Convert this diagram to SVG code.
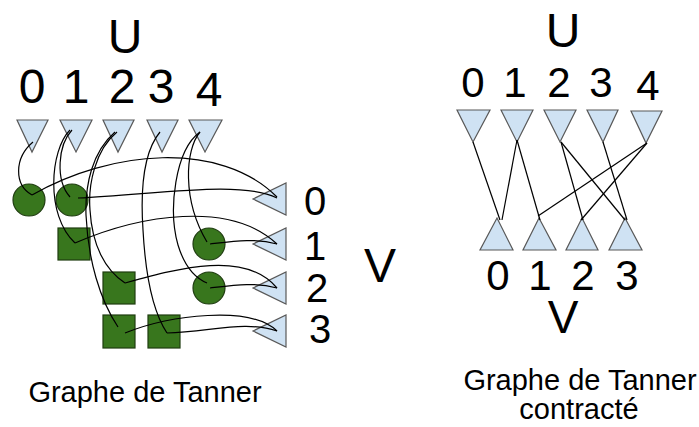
<svg xmlns="http://www.w3.org/2000/svg" width="699" height="427" viewBox="0 0 699 427">
<style>
.tri{fill:#cfe2f3;stroke:#595959;stroke-width:1.2}
.chk{fill:#38761d;stroke:#1f3d10;stroke-width:1.2}
.e{fill:none;stroke:#000;stroke-width:1.2}
.t{font-family:"Liberation Sans",Arial,sans-serif;fill:#000;text-anchor:middle}
</style>
<rect width="699" height="427" fill="#fff"/>
<!-- Left panel labels -->
<g id="left-labels" class="t">
<text x="125" y="53" font-size="48">U</text>
<text x="32" y="103" font-size="48">0</text>
<text x="76" y="103" font-size="48">1</text>
<text x="122" y="103" font-size="48">2</text>
<text x="161" y="103" font-size="48">3</text>
<text x="209" y="106" font-size="48">4</text>
<text x="315" y="215" font-size="40">0</text>
<text x="315" y="260" font-size="40">1</text>
<text x="317" y="302" font-size="40">2</text>
<text x="320" y="343" font-size="40">3</text>
<text x="380" y="282" font-size="48">V</text>
<text x="145" y="402" font-size="29">Graphe de Tanner</text>
</g>
<!-- Left U nodes -->
<g id="lu0"><polygon class="tri" points="17,120 48,120 32,152"/></g>
<g id="lu1"><polygon class="tri" points="60,120 92,120 76,152"/></g>
<g id="lu2"><polygon class="tri" points="103,120 134,120 118,152"/></g>
<g id="lu3"><polygon class="tri" points="147,120 178,120 162,152"/></g>
<g id="lu4"><polygon class="tri" points="189,120 222,120 205,152"/></g>
<!-- Left V nodes -->
<g id="lv0"><polygon class="tri" points="286,183 286,215 253,199"/></g>
<g id="lv1"><polygon class="tri" points="286,228 286,260 253,244"/></g>
<g id="lv2"><polygon class="tri" points="286,272 286,304 253,288"/></g>
<g id="lv3"><polygon class="tri" points="286,315 286,347 253,331"/></g>
<!-- Check nodes -->
<g id="c0"><circle class="chk" cx="29" cy="200" r="16"/></g>
<g id="c1"><circle class="chk" cx="72" cy="200" r="16"/></g>
<g id="s1"><rect class="chk" x="58" y="228" width="32" height="32"/></g>
<g id="c2"><circle class="chk" cx="209" cy="244" r="16"/></g>
<g id="s2"><rect class="chk" x="103" y="272" width="32" height="32"/></g>
<g id="c3"><circle class="chk" cx="209" cy="288" r="16"/></g>
<g id="s3"><rect class="chk" x="103" y="315" width="32" height="33"/></g>
<g id="s4"><rect class="chk" x="148" y="315" width="32" height="33"/></g>
<!-- Left connectors -->
<g id="left-edges" class="e">
<path d="M33,142 C14,158 14,185 32,195"/>
<path d="M72,130 C58,145 55,180 70,197"/>
<path d="M70,130 C50,150 45,215 75,243"/>
<path d="M117,132 C95,150 88,185 90,210 C92,245 105,270 125,283"/>
<path d="M115,132 C92,152 85,185 86,215 C88,260 100,300 118,327"/>
<path d="M160,132 C145,150 140,185 143,230 C146,285 155,315 167,333"/>
<path d="M200,132 C185,150 182,200 207,242"/>
<path d="M200,132 C175,150 168,210 178,245 C185,268 195,278 207,283"/>
<path d="M32,195 C110,150 220,140 277,197"/>
<path d="M78,198 C160,194 240,180 277,198"/>
<path d="M75,243 C140,215 230,200 277,244"/>
<path d="M210,244 C235,241 255,238 277,244"/>
<path d="M125,283 C180,268 245,250 277,288"/>
<path d="M210,288 C235,285 255,282 277,288"/>
<path d="M125,333 C170,315 250,305 277,331"/>
<path d="M167,333 C210,332 245,320 277,331"/>
</g>
<!-- Right panel labels -->
<g id="right-labels" class="t">
<text x="563" y="47" font-size="48">U</text>
<text x="473" y="97" font-size="42">0</text>
<text x="515" y="97" font-size="42">1</text>
<text x="559" y="97" font-size="42">2</text>
<text x="601" y="97" font-size="42">3</text>
<text x="648" y="100" font-size="42">4</text>
<text x="498" y="290" font-size="42">0</text>
<text x="540" y="290" font-size="42">1</text>
<text x="583" y="290" font-size="42">2</text>
<text x="627" y="290" font-size="42">3</text>
<text x="563" y="333" font-size="46">V</text>
<text x="580" y="390" font-size="29">Graphe de Tanner</text>
<text x="579" y="419" font-size="29">contracté</text>
</g>
<!-- Right U nodes -->
<g id="ru0"><polygon class="tri" points="457,110 490,110 473,142"/></g>
<g id="ru1"><polygon class="tri" points="501,110 533,110 517,142"/></g>
<g id="ru2"><polygon class="tri" points="544,110 576,110 560,142"/></g>
<g id="ru3"><polygon class="tri" points="587,110 618,110 603,142"/></g>
<g id="ru4"><polygon class="tri" points="631,111 662,111 646,143"/></g>
<!-- Right V nodes -->
<g id="rv0"><polygon class="tri" points="480,250 513,250 497,218"/></g>
<g id="rv1"><polygon class="tri" points="523,250 556,250 539,218"/></g>
<g id="rv2"><polygon class="tri" points="566,250 598,250 582,218"/></g>
<g id="rv3"><polygon class="tri" points="609,250 642,250 625,218"/></g>
<!-- Right connectors -->
<g id="right-edges" class="e">
<line x1="473" y1="142" x2="500" y2="220"/>
<line x1="517" y1="140" x2="502" y2="220"/>
<line x1="517" y1="140" x2="540" y2="220"/>
<line x1="561" y1="142" x2="583" y2="220"/>
<line x1="561" y1="142" x2="625" y2="220"/>
<line x1="603" y1="142" x2="627" y2="220"/>
<line x1="647" y1="143" x2="538" y2="216"/>
<line x1="647" y1="143" x2="581" y2="220"/>
</g>
</svg>
